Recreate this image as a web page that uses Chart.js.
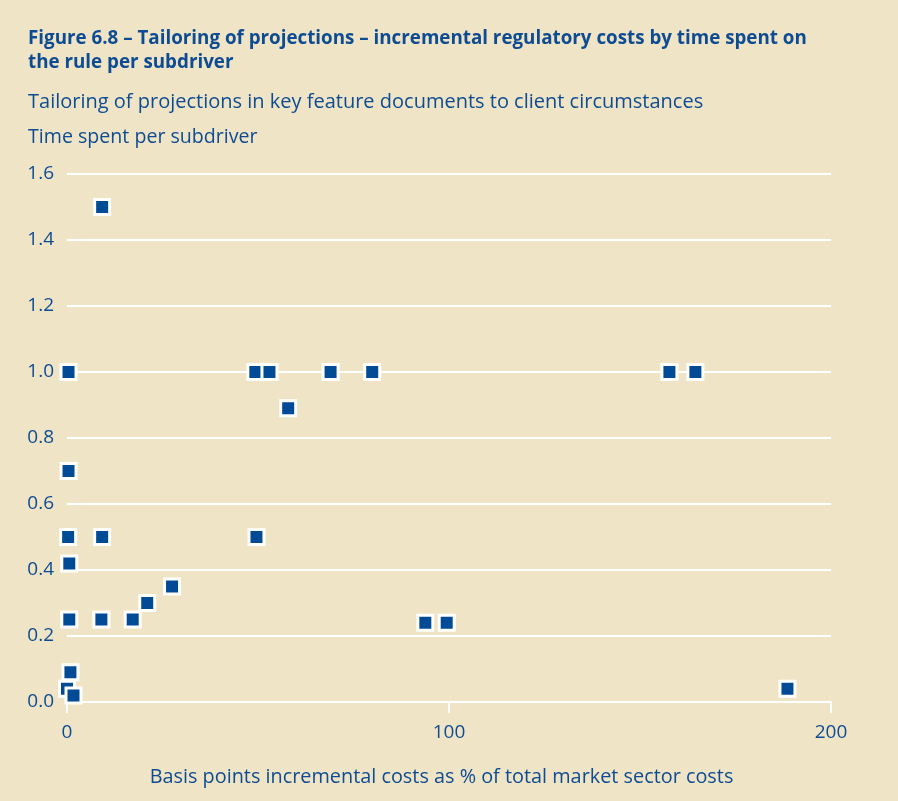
<!DOCTYPE html>
<html>
<head>
<meta charset="utf-8">
<script src="https://cdn.jsdelivr.net/npm/chart.js@4"></script>
<style>
  body { margin: 0; background: #f0e4c6; }
  #wrap { position: relative; width: 898px; height: 801px; background: #f0e4c6; font-family: "Open Sans", sans-serif; color: #0d4c92; }
  .txt { position: absolute; left: 28px; white-space: nowrap; line-height: 24px; }
  #title { top: 25px; font-weight: bold; font-size: 18.8px; }
  #sub { top: 89px; font-size: 20px; }
  #ylab { top: 124px; font-size: 19.6px; }
  #xlab { top: 764px; left: 0; width: 883px; text-align: center; font-size: 19.85px; }
  canvas { position: absolute; left: 0; top: 0; }
</style>
</head>
<body>
<div id="wrap">
  <canvas id="chart" width="898" height="801"></canvas>
  <div class="txt" id="title">Figure 6.8 – Tailoring of projections – incremental regulatory costs by time spent on<br>the rule per subdriver</div>
  <div class="txt" id="sub">Tailoring of projections in key feature documents to client circumstances</div>
  <div class="txt" id="ylab">Time spent per subdriver</div>
  <div class="txt" id="xlab">Basis points incremental costs as % of total market sector costs</div>
</div>
<script>
// basis points (x) and time spent per subdriver (y)
var cost_bp = [9.2, 0.4, 49.3, 53.0, 69.0, 79.9, 57.9, 157.7, 164.5, 0.4, 0.3, 9.2, 0.6, 49.6,
               27.5, 21.0, 0.6, 9.0, 17.2, 93.8, 99.4, 188.6, 0.9, 0.0, 1.7];
var time_spent = [1.5, 1.0, 1.0, 1.0, 1.0, 1.0, 0.89, 1.0, 1.0, 0.7, 0.5, 0.5, 0.42, 0.5,
                  0.35, 0.3, 0.25, 0.25, 0.25, 0.24, 0.24, 0.04, 0.09, 0.04, 0.02];

var txt_clr = '#0d4c92';
var pt_clr = '#004a96';

var pts = cost_bp.map((v, i) => {return {x: v, y: time_spent[i]}});

new Chart(document.getElementById('chart'), {
  type: 'scatter',
  data: {
    datasets: [{
      data: pts,
      clip: false,
      pointStyle: 'rect',
      pointRadius: 10.6,
      pointHoverRadius: 10.6,
      backgroundColor: pt_clr,
      borderColor: '#ffffff',
      borderWidth: 3
    }]
  },
  options: {
    responsive: false,
    animation: false,
    layout: { padding: { top: 174, right: 67, left: 0, bottom: 0 } },
    scales: {
      x: {
        min: 0,
        max: 200,
        afterFit: function(s) { s.height = 99; },
        ticks: { stepSize: 100, color: txt_clr, padding: 8, font: { family: 'Open Sans', size: 19 } },
        grid: { drawOnChartArea: false, drawTicks: true, tickLength: 11, color: '#ffffff', lineWidth: 2 },
        border: { display: true, color: '#ffffff', width: 2 }
      },
      y: {
        min: 0,
        max: 1.6,
        afterFit: function(s) { s.width = 67; },
        ticks: {
          stepSize: 0.2,
          color: txt_clr,
          padding: 13,
          font: { family: 'Open Sans', size: 19 },
          callback: function(value) { return value.toFixed(1); }
        },
        grid: { drawTicks: false, color: '#ffffff', lineWidth: 2 },
        border: { display: false }
      }
    },
    plugins: {
      legend: { display: false },
      tooltip: { enabled: false }
    }
  }
});
</script>
</body>
</html>
